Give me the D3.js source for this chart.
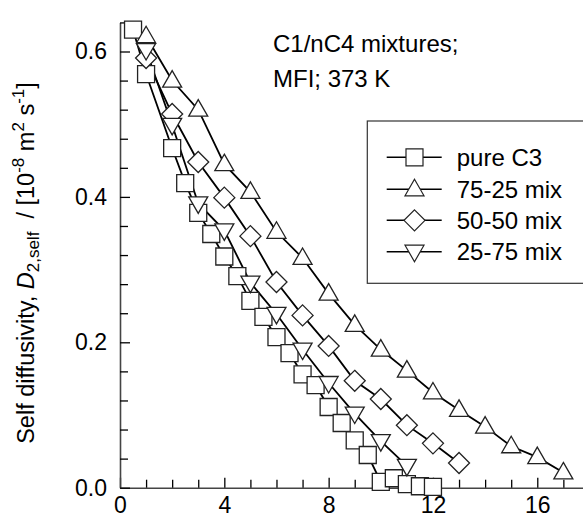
<!DOCTYPE html>
<html>
<head>
<meta charset="utf-8">
<script src="https://cdn.jsdelivr.net/npm/d3@7"></script>
<style>
  html, body { margin: 0; padding: 0; background: #fff; }
  svg { display: block; font-family: Arial, "Liberation Sans", sans-serif; }
</style>
</head>
<body>
<svg id="chart" width="583" height="525"></svg>
<script>
// Loading (molecules per unit cell) and self diffusivity of nC4, 10^-8 m^2/s
const pureC3X = [0.5, 1, 2, 2.5, 3, 3.5, 4, 4.5, 5, 5.5, 6, 6.5, 7, 7.5, 8, 8.5, 9, 9.5, 10, 10.5, 11, 11.5, 12];
const pureC3Y = [0.630, 0.569, 0.467, 0.419, 0.378, 0.349, 0.318, 0.291, 0.257, 0.235, 0.207, 0.185, 0.156, 0.141, 0.111, 0.089, 0.065, 0.045, 0.008, 0.013, 0.005, 0.002, 0.001];

const mix7525X = [1, 2, 3, 4, 5, 6, 7, 8, 9, 10, 11, 12, 13, 14, 15, 16, 17];
const mix7525Y = [0.621, 0.560, 0.520, 0.445, 0.407, 0.352, 0.316, 0.267, 0.224, 0.190, 0.161, 0.131, 0.107, 0.084, 0.057, 0.042, 0.021];

const mix5050X = [1, 2, 3, 4, 5, 6, 7, 8, 9, 10, 11, 12, 13];
const mix5050Y = [0.591, 0.514, 0.448, 0.399, 0.346, 0.283, 0.237, 0.195, 0.147, 0.122, 0.086, 0.061, 0.034];

const mix2575X = [1, 2, 3, 4, 5, 6, 7, 8, 9, 10, 11];
const mix2575Y = [0.602, 0.499, 0.391, 0.354, 0.282, 0.239, 0.190, 0.144, 0.102, 0.064, 0.030];

const seriesNames = ["pure C3", "75-25 mix", "50-50 mix", "25-75 mix"];
const xTickLabels = [0, 4, 8, 12, 16];
const yTickLabels = [0.0, 0.2, 0.4, 0.6];

const series = [
  { name: seriesNames[0], xs: pureC3X, ys: pureC3Y, shape: "square" },
  { name: seriesNames[1], xs: mix7525X, ys: mix7525Y, shape: "triUp" },
  { name: seriesNames[2], xs: mix5050X, ys: mix5050Y, shape: "diamond" },
  { name: seriesNames[3], xs: mix2575X, ys: mix2575Y, shape: "triDown" }
];

const svg = d3.select("#chart");

const x = d3.scaleLinear().domain([0, 18]).range([120, 120 + 18 * 26.08]);
const y = d3.scaleLinear().domain([0, 0.64]).range([487.7, 487.7 - 0.64 * 727]);

// Marker outlines, centred on (0,0)
const shapes = {
  square: "M-8.5,-8.5H8.5V8.5H-8.5Z",
  triUp: "M0,-10L9.5,6.5L-9.5,6.5Z",
  triDown: "M0,10L9.5,-6.5L-9.5,-6.5Z",
  diamond: "M0,-10.5L10.5,0L0,10.5L-10.5,0Z"
};

const axisColor = "#444";

// Axes: minor ticks every unit / 0.04, labelled ticks inward
const xMinor = d3.range(0, 18.01, 1);
const yMinor = d3.range(0, 0.6401, 0.04);

const gx = svg.append("g").attr("transform", `translate(0,${y(0)})`);
gx.call(d3.axisBottom(x).tickValues(xMinor).tickSizeInner(-8).tickSizeOuter(0).tickFormat(""));
gx.selectAll(".tick").filter(d => xTickLabels.includes(d)).select("line").attr("y2", -10);
gx.select(".domain").attr("stroke", axisColor).attr("stroke-width", 1.6);
gx.selectAll(".tick line").attr("stroke", "#000").attr("stroke-width", 1.3);

const gxl = svg.append("g").attr("transform", `translate(0,${y(0)})`);
gxl.call(d3.axisBottom(x).tickValues(xTickLabels).tickSize(0).tickPadding(0).tickFormat(d3.format("d")));
gxl.select(".domain").remove();
gxl.selectAll("text").attr("font-size", 23).attr("fill", "#000").attr("font-family", "Arial, 'Liberation Sans', sans-serif").attr("dy", "1.1em");

const gy = svg.append("g").attr("transform", `translate(${x(0)},0)`);
gy.call(d3.axisLeft(y).tickValues(yMinor).tickSizeInner(-8).tickSizeOuter(0).tickFormat(""));
gy.selectAll(".tick").filter(d => yTickLabels.some(v => Math.abs(v - d) < 1e-6)).select("line").attr("x2", 10);
gy.select(".domain").attr("stroke", axisColor).attr("stroke-width", 1.6);
gy.selectAll(".tick line").attr("stroke", "#000").attr("stroke-width", 1.3);

const gyl = svg.append("g").attr("transform", `translate(${x(0) - 13},0)`);
gyl.call(d3.axisLeft(y).tickValues(yTickLabels).tickSize(0).tickPadding(0).tickFormat(d3.format(".1f")));
gyl.select(".domain").remove();
gyl.selectAll("text").attr("font-size", 23).attr("fill", "#000").attr("font-family", "Arial, 'Liberation Sans', sans-serif");

// Series lines and markers
const line = d3.line().x(d => x(d[0])).y(d => y(d[1]));
series.forEach(s => {
  const pts = s.xs.map((v, i) => [v, s.ys[i]]);
  svg.append("path").datum(pts).attr("d", line)
    .attr("fill", "none").attr("stroke", "#000").attr("stroke-width", 1.8);
});
series.forEach(s => {
  const pts = s.xs.map((v, i) => [v, s.ys[i]]);
  svg.append("g").selectAll("path").data(pts).join("path")
    .attr("d", shapes[s.shape])
    .attr("transform", d => `translate(${x(d[0])},${y(d[1])})`)
    .attr("fill", "#fff").attr("stroke", "#222").attr("stroke-width", 1.3);
});

// Annotation
const note = svg.append("text").attr("font-size", 24).attr("fill", "#000");
note.append("tspan").attr("x", 273).attr("y", 52).text("C1/nC4 mixtures;");
note.append("tspan").attr("x", 273).attr("y", 87).text("MFI; 373 K");

// Legend
const legend = svg.append("g");
legend.append("rect").attr("x", 367.3).attr("y", 121).attr("width", 240).attr("height", 162.3)
  .attr("fill", "#fff").attr("stroke", "#333").attr("stroke-width", 1.2);
const rowY = [157.3, 189.3, 220.3, 251.7];
series.forEach((s, i) => {
  const g = legend.append("g").attr("transform", `translate(0,${rowY[i]})`);
  g.append("line").attr("x1", 386.7).attr("x2", 441.7).attr("y1", 0).attr("y2", 0)
    .attr("stroke", "#000").attr("stroke-width", 1.6);
  g.append("path").attr("d", shapes[s.shape]).attr("transform", "translate(414.5,0)")
    .attr("fill", "#fff").attr("stroke", "#222").attr("stroke-width", 1.2);
  g.append("text").attr("x", 456.7).attr("y", 8.5).attr("font-size", 24).attr("fill", "#000").text(s.name);
});

// Y axis title
const yt = svg.append("text")
  .attr("transform", "translate(34,263) rotate(-90)")
  .attr("text-anchor", "middle").attr("font-size", 23.5).attr("fill", "#000");
yt.append("tspan").text("Self diffusivity, ");
yt.append("tspan").attr("font-style", "italic").text("D");
yt.append("tspan").attr("font-size", 17).attr("dy", 5).text("2,self");
yt.append("tspan").attr("dy", -5).text("\u00a0 / [10");
yt.append("tspan").attr("font-size", 17).attr("dy", -10).text("-8");
yt.append("tspan").attr("dy", 10).text(" m");
yt.append("tspan").attr("font-size", 17).attr("dy", -10).text("2");
yt.append("tspan").attr("dy", 10).text(" s");
yt.append("tspan").attr("font-size", 17).attr("dy", -10).text("-1");
yt.append("tspan").attr("dy", 10).text("]");
</script>
</body>
</html>
